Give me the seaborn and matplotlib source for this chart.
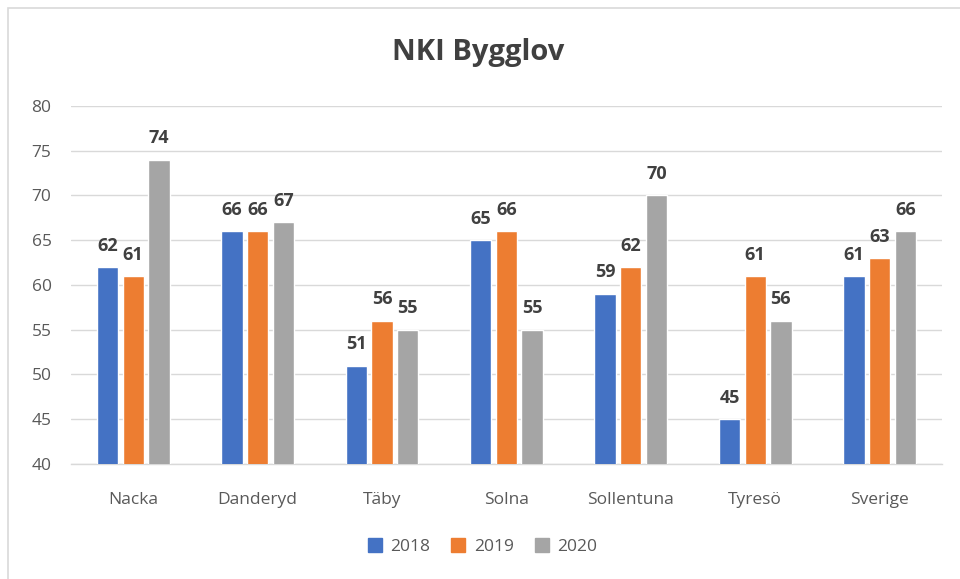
import matplotlib.pyplot as plt
import pandas as pd
import seaborn as sns
from matplotlib.lines import Line2D
from matplotlib.patches import Rectangle

kommuner = ["Nacka", "Danderyd", "Täby", "Solna", "Sollentuna", "Tyresö", "Sverige"]
ar = ["2018", "2019", "2020"]
nki_2018 = [62, 66, 51, 65, 59, 45, 61]
nki_2019 = [61, 66, 56, 66, 62, 61, 63]
nki_2020 = [74, 67, 55, 55, 70, 56, 66]
farger = ["#4472C4", "#ED7D31", "#A5A5A5"]

df = pd.DataFrame({"kommun": kommuner, "2018": nki_2018, "2019": nki_2019, "2020": nki_2020})
df = df.melt(id_vars="kommun", var_name="ar", value_name="nki")

sns.set_theme(style="white")
plt.rcParams["font.family"] = ["Open Sans", "DejaVu Sans"]

fig = plt.figure(figsize=(9.6, 5.79), dpi=100)
ax = fig.add_axes([0.074, 0.1986, 0.907, 0.6184])

sns.barplot(df, x="kommun", y="nki", hue="ar", palette=farger, saturation=1, width=0.62,
            gap=0.17, errorbar=None, ax=ax, legend=False, zorder=3)

ax.set_ylim(40, 80)
ax.set_yticks(range(40, 81, 5))
ax.set_xlim(-0.5, 6.5)
ax.grid(axis="y", color="#D9D9D9", linewidth=1, zorder=0)
ax.set_axisbelow(True)
for side in ["top", "right", "left"]:
    ax.spines[side].set_visible(False)
ax.spines["bottom"].set_color("#D9D9D9")
ax.spines["bottom"].set_linewidth(1)
ax.tick_params(axis="both", length=0, labelsize=12.5, colors="#595959")
ax.tick_params(axis="x", pad=20)
ax.tick_params(axis="y", pad=14)
ax.set_xlabel("")
ax.set_ylabel("")

for bars in ax.containers:
    ax.bar_label(bars, padding=9, fontsize=13, fontweight="bold", color="#404040")

fig.text(0.498, 0.91, "NKI Bygglov", ha="center", va="center", fontsize=21,
         fontweight="bold", color="#404040")

handles = [Line2D([], [], marker="s", linestyle="none", markersize=10, color=c) for c in farger]
fig.legend(handles, ar, loc="center", bbox_to_anchor=(0.5, 0.055), ncol=3, frameon=False,
           fontsize=12.5, labelcolor="#595959", handletextpad=0.2, columnspacing=0.9,
           handlelength=1.4)

fig.patches.append(Rectangle((8 / 960, -0.05), 1.1, 1 - 8 / 579 + 0.05, transform=fig.transFigure,
                             fill=False, edgecolor="#D9D9D9", linewidth=1.2))

plt.savefig("out.png", dpi=100)
plt.close()
